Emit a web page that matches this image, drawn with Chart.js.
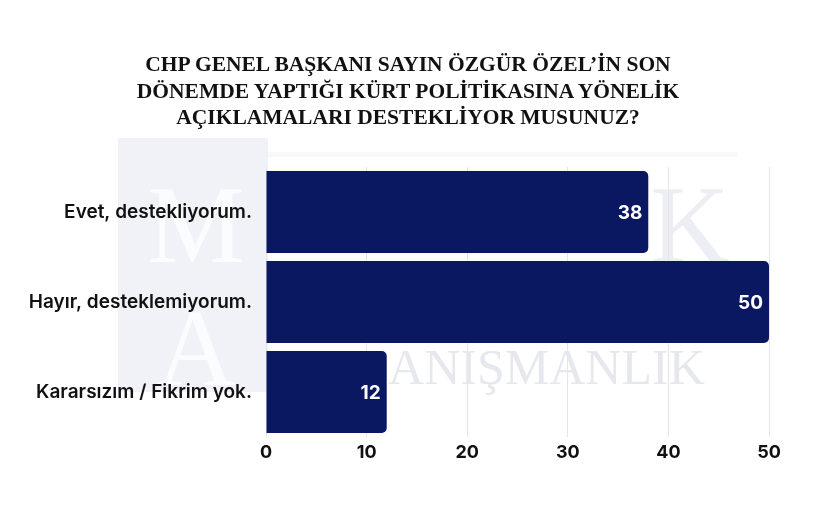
<!DOCTYPE html>
<html>
<head>
<meta charset="utf-8">
<script src="https://cdn.jsdelivr.net/npm/chart.js@4"></script>
<style>
  html, body { margin: 0; padding: 0; background: #ffffff; }
  #wrap { position: relative; width: 820px; height: 521px; }
  #title {
    position: absolute; left: 0; top: 51px; width: 816px;
    margin: 0; text-align: center; color: #111111;
    font: bold 21.5px/26.5px "Liberation Serif", serif;
  }
  canvas { position: absolute; left: 0; top: 0; }
</style>
</head>
<body>
<div id="wrap">
  <canvas id="chart" width="820" height="521"></canvas>
  <h1 id="title"></h1>
</div>
<script>
// Survey question, answers and percentages
var titleLines = [
  'CHP GENEL BAŞKANI SAYIN ÖZGÜR ÖZEL\u2019İN SON',
  'DÖNEMDE YAPTIĞI KÜRT POLİTİKASINA YÖNELİK',
  'AÇIKLAMALARI DESTEKLİYOR MUSUNUZ?'
];
var answers = ['Evet, destekliyorum.', 'Hayır, desteklemiyorum.', 'Kararsızım / Fikrim yok.'];
var shares = [38, 50, 12];
var xTicks = [0, 10, 20, 30, 40, 50];

var NAVY = '#0a1862';

// Title as real text, one line per row
var titleEl = document.getElementById('title');
titleLines.forEach(function (line, i) {
  if (i > 0) titleEl.appendChild(document.createElement('br'));
  titleEl.appendChild(document.createTextNode(line));
});

// Faint agency watermark behind the plot
var watermark = {
  id: 'watermark',
  beforeDraw: function (chart) {
    var ctx = chart.ctx;
    ctx.save();
    ctx.fillStyle = '#ffffff';
    ctx.fillRect(0, 0, chart.width, chart.height);
    ctx.fillStyle = '#f0f2f7';
    ctx.fillRect(118, 138, 150, 254);
    ctx.fillStyle = '#f8f9fb';
    ctx.fillRect(268, 152, 470, 5);
    ctx.font = '110px "Liberation Serif"';
    ctx.textAlign = 'center';
    ctx.textBaseline = 'alphabetic';
    ctx.fillStyle = '#fbfcfe';
    ctx.fillText('M', 196, 262);
    ctx.fillText('A', 196, 385);
    ctx.fillStyle = '#eceef3';
    ctx.fillText('K', 690, 262);
    ctx.font = '50px "Liberation Serif"';
    ctx.fillStyle = '#e6e8ee';
    ctx.textAlign = 'left';
    ctx.fillText('DANIŞMANLIK', 352, 384);
    ctx.restore();
  }
};

// Value labels inside the right end of each bar
var barValues = {
  id: 'barValues',
  afterDatasetsDraw: function (chart) {
    var ctx = chart.ctx;
    var meta = chart.getDatasetMeta(0);
    ctx.save();
    ctx.fillStyle = '#ffffff';
    ctx.font = 'bold 19px Inter';
    ctx.textAlign = 'right';
    ctx.textBaseline = 'middle';
    meta.data.forEach(function (bar, i) {
      ctx.fillText(String(shares[i]), bar.x - 6, bar.y + 1);
    });
    ctx.restore();
  }
};

new Chart(document.getElementById('chart'), {
  type: 'bar',
  data: {
    labels: answers,
    datasets: [{
      data: shares,
      backgroundColor: NAVY,
      borderRadius: 5,
      barPercentage: 0.91,
      categoryPercentage: 1
    }]
  },
  options: {
    indexAxis: 'y',
    responsive: false,
    animation: false,
    layout: { padding: { top: 167, left: 0, right: 51, bottom: 54 } },
    plugins: {
      legend: { display: false },
      tooltip: { enabled: false },
      title: { display: false }
    },
    scales: {
      x: {
        min: 0,
        max: 50,
        afterBuildTicks: function (scale) {
          scale.ticks = xTicks.map(function (v) { return { value: v }; });
        },
        afterFit: function (scale) { scale.height = 30; },
        grid: { color: '#e6e6e6', drawTicks: false },
        border: { display: false },
        ticks: {
          color: '#111111',
          padding: 5,
          font: { family: 'Inter', size: 18, weight: 'bold' }
        }
      },
      y: {
        afterFit: function (scale) { scale.width = 266; },
        grid: { display: false, drawTicks: false },
        border: { display: false },
        ticks: {
          color: '#111111',
          padding: 14,
          font: { family: 'Inter', size: 19, weight: '600' }
        }
      }
    }
  },
  plugins: [watermark, barValues]
});
</script>
</body>
</html>
